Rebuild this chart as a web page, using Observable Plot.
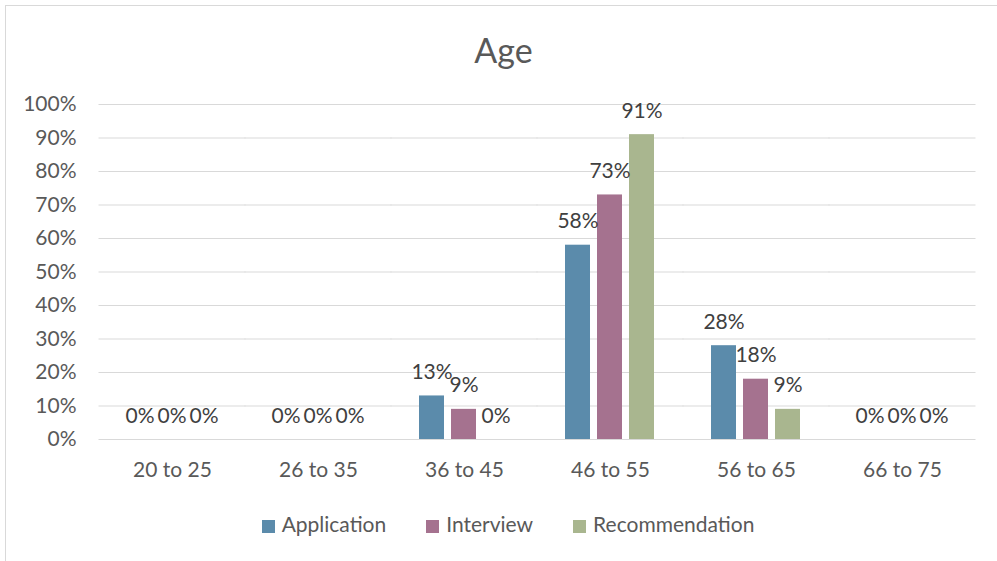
<!DOCTYPE html>
<html>
<head>
<meta charset="utf-8">
<script src="https://cdn.jsdelivr.net/npm/d3@7"></script>
<script src="https://cdn.jsdelivr.net/npm/@observablehq/plot@0.6"></script>
<style>
  html, body { margin: 0; padding: 0; background: #fff; overflow: hidden; }
  #wrap { position: relative; width: 997px; height: 561px; font-family: Lato, "Open Sans", sans-serif; }
  #border { position: absolute; left: 5px; top: 5px; width: 1100px; height: 700px; border: 1px solid #d9d9d9; box-sizing: border-box; pointer-events: none; }
  #title { position: absolute; left: 0; width: 1007px; top: 30px; text-align: center; font-size: 34px; line-height: 40px; color: #595959; }
  #legend { position: absolute; left: 0; width: 1016px; top: 511px; text-align: center; font-size: 21px; line-height: 26px; color: #595959; white-space: nowrap; }
  #legend span.item { display: inline-block; margin: 0 20px; }
  #legend span.sw { display: inline-block; width: 13px; height: 13px; margin-right: 7px; vertical-align: -1px; }
  svg { position: absolute; left: 0; top: 0; }
</style>
</head>
<body>
<div id="wrap">
  <div id="border"></div>
  <div id="title">Age</div>
  <div id="legend"></div>
</div>
<script>
const categories = ["20 to 25", "26 to 35", "36 to 45", "46 to 55", "56 to 65", "66 to 75"];
const series = ["Application", "Interview", "Recommendation"];
const application = [0, 0, 13, 58, 28, 0];
const interview = [0, 0, 9, 73, 18, 0];
const recommendation = [0, 0, 0, 91, 9, 0];
const colors = ["#5b8bab", "#a5728f", "#a9b68f"];
const yTicks = [0, 10, 20, 30, 40, 50, 60, 70, 80, 90, 100];

const valuesBySeries = [application, interview, recommendation];
const data = [];
categories.forEach((c, i) => {
  series.forEach((s, j) => data.push({cat: c, series: s, value: valuesBySeries[j][i]}));
});

const chart = Plot.plot({
  width: 997,
  height: 561,
  marginLeft: 99,
  marginRight: 22,
  marginTop: 104,
  marginBottom: 122,
  style: {fontFamily: "Lato, 'Open Sans', sans-serif", color: "#595959", background: "transparent", overflow: "visible"},
  fx: {domain: categories, paddingInner: 0.37, paddingOuter: 0.185, label: null},
  x: {domain: series, paddingInner: 0.212, paddingOuter: 0, axis: null},
  y: {domain: [0, 100], label: null},
  color: {domain: series, range: colors},
  marks: [
    Plot.ruleY(yTicks, {stroke: "#d9d9d9", strokeWidth: 1, insetLeft: -27.5, insetRight: -27.5}),
    Plot.axisY(yTicks, {tickFormat: d => d + "%", tickSize: 0, tickPadding: 50, fontSize: 21, label: null}),
    Plot.axisFx({tickSize: 0, tickPadding: 23, fontSize: 21, label: null, anchor: "bottom"}),
    Plot.barY(data, {fx: "cat", x: "series", y: "value", fill: "series"}),
    Plot.text(data, {fx: "cat", x: "series", y: "value", text: d => d.value + "%", lineAnchor: "bottom", dy: -17, fontSize: 21, fill: "#404040"})
  ]
});
document.getElementById("wrap").appendChild(chart);

const legend = document.getElementById("legend");
series.forEach((s, i) => {
  const item = document.createElement("span");
  item.className = "item";
  const sw = document.createElement("span");
  sw.className = "sw";
  sw.style.background = colors[i];
  item.appendChild(sw);
  item.appendChild(document.createTextNode(s));
  legend.appendChild(item);
});
</script>
</body>
</html>
